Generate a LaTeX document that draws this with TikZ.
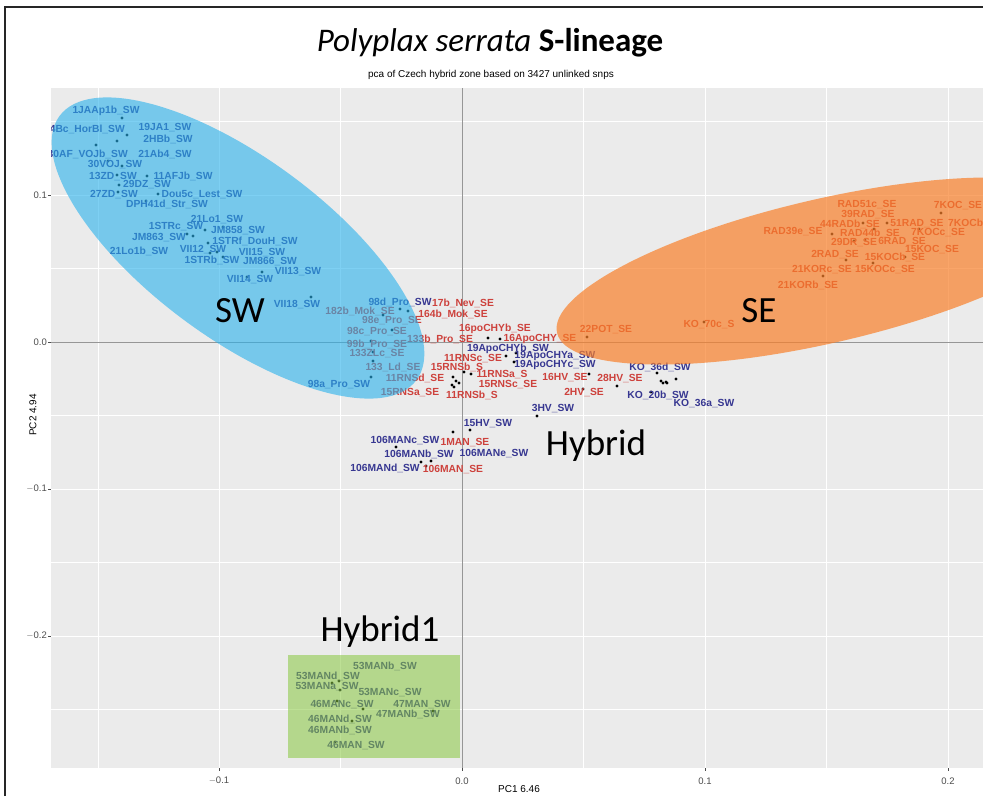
\documentclass[tikz,border=0pt]{standalone}
\usepackage{fontspec}
\setmainfont{Liberation Sans}
\newfontfamily\calfont{Carlito}
\definecolor{swcol}{RGB}{55,55,145}
\definecolor{secol}{RGB}{205,65,60}
\definecolor{swfill}{RGB}{40,178,235}
\definecolor{sefill}{RGB}{249,128,42}
\definecolor{hyfill}{RGB}{135,199,62}
\definecolor{panelbg}{RGB}{235,235,235}
\definecolor{zeroline}{RGB}{150,150,150}
\definecolor{ticktext}{RGB}{77,77,77}
\begin{document}
\begin{tikzpicture}[x=1pt,y=-1pt,
  lab/.style={font=\bfseries\fontsize{10.3}{11}\selectfont, inner sep=0pt},
  swlab/.style={lab, text=swcol},
  selab/.style={lab, text=secol},
  dot/.style={circle, fill=black, inner sep=0pt, minimum size=3.2pt},
  big/.style={font=\calfont\fontsize{37}{40}\selectfont, inner sep=0pt},
  ticklab/.style={font=\fontsize{9.5}{10}\selectfont, text=ticktext, inner sep=0pt},
  axtitle/.style={font=\fontsize{10}{11}\selectfont, inner sep=0pt},
  majgrid/.style={white, line width=1pt},
  mingrid/.style={white, line width=0.5pt}]
\useasboundingbox (0,0) rectangle (983,796);
\fill[white] (0,0) rectangle (983,796);
\clip (0,0) rectangle (983,796);
% outer frame
\draw[line width=2pt, black!85] (5,796) -- (5,7) -- (983,7);
% title
\node (title) at (490,43) {\calfont\fontsize{33}{37}\selectfont\itshape Polyplax serrata \upshape\bfseries S-lineage};
\node[axtitle] (subtitle) at (491,75) {pca of Czech hybrid zone based on 3427 unlinked snps};
% panel and grid
\fill[panelbg] (51,88) rectangle (983,768);
\foreach \x in {98,340,583,826} \draw[mingrid] (\x,88) -- (\x,768);
\foreach \y in {121,268,415,562,709} \draw[mingrid] (51,\y) -- (983,\y);
\foreach \x in {219,705,948} \draw[majgrid] (\x,88) -- (\x,768);
\foreach \y in {195,489,636} \draw[majgrid] (51,\y) -- (983,\y);
\draw[zeroline, line width=0.8pt] (462,88) -- (462,768);
\draw[zeroline, line width=0.8pt] (51,342) -- (983,342);
% axis ticks and labels
\foreach \x/\t [count=\i] in {219/{$-$0.1},462/0.0,705/0.1,948/0.2} {
  \draw[ticktext, line width=0.5pt] (\x,768) -- (\x,771);
  \node[ticklab] (xt\i) at (\x,781) {\t};
}
\foreach \y/\t [count=\i] in {195/0.1,342/0.0,489/{$-$0.1},636/{$-$0.2}} {
  \draw[ticktext, line width=0.5pt] (48,\y) -- (51,\y);
  \node[ticklab, anchor=east] (yt\i) at (47,\y) {\t};
}
\node[axtitle] (xtitle) at (519,789) {PC1 6.46};
\node[axtitle, rotate=90] (ytitle) at (33,415) {PC2 4.94};
% samples: points and labels, clipped to the panel
\begin{scope}
\clip (51,88) rectangle (983,768);
\foreach \x/\y [count=\i] in {122/118,127/135,117/141,96/145,108/161,122/166,117/175,147/176,119/185,118/192,158/194,146/201,205/230,223/227,187/234,193/236,208/243,217/252,210/253,223/257,262/272,247/277,311/297,400/309,408/311,383/315,392/330,371/341,373/352,373/361,371/377,
  488/338,500/339,506/356,516/353,514/362,464/372,471/374,453/377,456/381,459/383,452/385,454/387,589/374,617/386,583/389,537/416,657/373,661/381,663/383,666/382,667/383,676/379,651/392,587/337,470/430,453/432,396/447,421/462,431/461,426/466,
  941/213,887/223,874/229,863/223,832/234,854/241,865/240,919/229,905/257,846/260,873/263,823/276,704/322,
  339/681,332/683,340/690,337/701,363/709,433/711,352/721,335/742}
  \node[dot] (p\i) at (\x,\y) {};
\foreach \x/\y/\t [count=\i] in {106/111/1JAAp1b\_SW, 165/128/19JA1\_SW, 168/139/2HBb\_SW, 165/154/21Ab4\_SW,
  115/165/30VOJ\_SW, 113/177/13ZD\_SW, 183/176/11AFJb\_SW, 147/185/29DZ\_SW, 114/195/27ZD\_SW,
  202/195/Dou5c\_Lest\_SW, 167/204/DPH41d\_Str\_SW, 217/220/21Lo1\_SW, 176/227/1STRc\_SW,
  238/231/JM858\_SW, 159/238/JM863\_SW, 255/241/1STRf\_DouH\_SW, 139/251/21Lo1b\_SW,
  203/250/VII12\_SW, 262/253/VII15\_SW, 212/260/1STRb\_SW, 270/262/JM866\_SW, 298/272/VII13\_SW,
  250/280/VII14\_SW, 297/305/VII18\_SW, 400/302/98d\_Pro\_SW, 339/385/98a\_Pro\_SW,
  508/349/19ApoCHYb\_SW, 555/356/19ApoCHYa\_SW, 555/365/19ApoCHYc\_SW, 553/409/3HV\_SW,
  660/367/KO\_36d\_SW, 658/395/KO\_20b\_SW, 704/404/KO\_36a\_SW, 488/424/15HV\_SW,
  405/441/106MANc\_SW, 419/454/106MANb\_SW, 494/454/106MANe\_SW, 385/468/106MANd\_SW,
  385/666/53MANb\_SW, 328/676/53MANd\_SW, 327/687/53MANa\_SW, 390/693/53MANc\_SW,
  342/705/46MANc\_SW, 422/705/47MAN\_SW, 408/714/47MANb\_SW, 340/719/46MANd\_SW,
  340/730/46MANb\_SW, 356/746/46MAN\_SW}
  \node[swlab] (sw\i) at (\x,\y) {\t};
\node[swlab, anchor=east] (swa) at (125,129) {4Bc\_HorBl\_SW};
\node[swlab, anchor=east] (swb) at (128,154) {30AF\_VOJb\_SW};
\foreach \x/\y/\t [count=\i] in {360/311/182b\_Mok\_SE, 392/321/98e\_Pro\_SE, 377/332/98c\_Pro\_SE,
  377/344/99b\_Pro\_SE, 377/354/133ZLc\_SE, 393/367/133\_Ld\_SE, 415/378/11RNSd\_SE,
  410/393/15RNSa\_SE, 463/303/17b\_Nev\_SE, 453/314/164b\_Mok\_SE, 495/329/16poCHYb\_SE,
  440/339/133b\_Pro\_SE, 540/339/16ApoCHY\_SE, 473/359/11RNSc\_SE, 457/367/15RNSb\_S,
  502/375/11RNSa\_S, 508/385/15RNSc\_SE, 472/395/11RNSb\_S, 565/378/16HV\_SE,
  620/379/28HV\_SE, 584/393/2HV\_SE, 465/443/1MAN\_SE, 453/470/106MAN\_SE, 606/330/22POT\_SE,
  867/205/RAD51c\_SE, 958/206/7KOC\_SE, 868/215/39RAD\_SE, 850/224/44RADb\_SE,
  917/224/51RAD\_SE, 793/232/RAD39e\_SE, 870/233/RAD44b\_SE, 938/233/7KOCc\_SE,
  854/243/29DR\_SE, 902/242/6RAD\_SE, 932/250/15KOC\_SE, 835/255/2RAD\_SE,
  895/257/15KOCb\_SE, 822/270/21KORc\_SE, 885/270/15KOCc\_SE, 808/285/21KORb\_SE,
  709/325/KO\_70c\_S}
  \node[selab] (se\i) at (\x,\y) {\t};
\node[selab, anchor=west] (sea) at (948,223) {7KOCb\_SE};
\end{scope}
% group outlines, laid over the samples
\fill[swfill, fill opacity=0.6, rotate around={-36.5:(238,248)}] (238,248) ellipse [x radius=222, y radius=90];
\fill[sefill, fill opacity=0.7, rotate around={13:(825,271)}] (825,271) ellipse [x radius=275, y radius=72];
\fill[hyfill, fill opacity=0.55] (288,655) rectangle (460,758);
% group names
\node[big] (gSW) at (240,311) {SW};
\node[big] (gSE) at (759,311) {SE};
\node[big] (gHy) at (596,446) {Hybrid};
\node[big] (gHy1) at (380,632) {Hybrid1};
\end{tikzpicture}
\end{document}
